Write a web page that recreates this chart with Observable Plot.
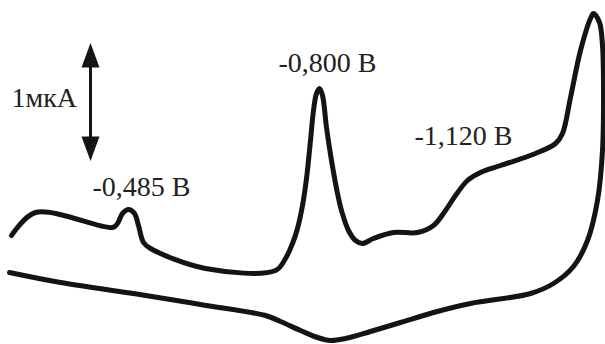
<!DOCTYPE html>
<html>
<head>
<meta charset="utf-8">
<script src="https://cdn.jsdelivr.net/npm/d3@7"></script>
<script src="https://cdn.jsdelivr.net/npm/@observablehq/plot@0.6"></script>
<style>
  body { margin: 0; background: #fff; }
  #chart svg { display: block; }
</style>
</head>
<body>
<div id="chart"></div>
<script>
// Potential (arbitrary units, left→right) and current (arbitrary units, top = high)
const curveX = [11,35,112,117,122,128,134,138,143,150,205,275,285,292,297,302,306,310,313,316,319,322,326,331,337,341,348,355,362,373,393,417,433,445,455,467,480,500,535,555,562,570,580,590,593,599,602,603,602,597,587,573,553,530,470,433,400,370,345,330,317,300,280,265,200,133,60,9];
const curveY = [235,212,227,223,213,209,213,225,242,248,268,270,258,243,228,205,178,140,110,93,88,95,127,160,193,210,230,240,243,238,232,232,225,210,195,180,172,165,153,143,133,97,50,18,13,22,45,85,150,200,240,266,283,293,303,312,322,331,338,340,337,330,321,315,304,293,282,272];

const peakLabels = ["-0,485 В", "-0,800 В", "-1,120 В"];
const peakLabelX = [92, 278, 414];
const peakLabelY = [187, 63, 136];

const scaleLabel = ["1мкА"];
const scaleLabelX = [11];
const scaleLabelY = [98];

// scale bar (1 µA) ends
const barX = [90];
const barTop = [55];
const barBottom = [148];

const curve = curveX.map((x, i) => ({x, y: curveY[i]}));
const labels = peakLabels.map((t, i) => ({t, x: peakLabelX[i], y: peakLabelY[i]}));
const scaleText = scaleLabel.map((t, i) => ({t, x: scaleLabelX[i], y: scaleLabelY[i]}));
const bar = barX.map((x, i) => ({x, y1: barTop[i], y2: barBottom[i]}));

const head = {
  draw(context) {
    context.moveTo(0, -12.5);
    context.lineTo(9, 12);
    context.lineTo(-9, 12);
    context.closePath();
  }
};

const chart = Plot.plot({
  width: 605,
  height: 344,
  margin: 0,
  x: {domain: [0, 605], axis: null},
  y: {domain: [344, 0], axis: null},
  style: {background: "#fff", fontFamily: "'Liberation Serif', 'Times New Roman', serif"},
  marks: [
    Plot.line(curve, {x: "x", y: "y", curve: "catmull-rom", stroke: "#141414", strokeWidth: 5, strokeLinejoin: "round", strokeLinecap: "round"}),
    Plot.link(bar, {x1: "x", x2: "x", y1: "y1", y2: "y2", stroke: "#141414", strokeWidth: 3}),
    Plot.dot(bar, {x: "x", y: "y1", symbol: head, fill: "#141414", stroke: null, r: 10}),
    Plot.dot(bar, {x: "x", y: "y2", symbol: head, fill: "#141414", stroke: null, r: 10, rotate: 180}),
    Plot.text(labels, {x: "x", y: "y", text: "t", textAnchor: "start", fontSize: 28, fontFamily: "'Liberation Serif', serif", fill: "#222"}),
    Plot.text(scaleText, {x: "x", y: "y", text: "t", textAnchor: "start", fontSize: 28, fontFamily: "'Liberation Serif', serif", fill: "#222"})
  ]
});
document.getElementById("chart").appendChild(chart);
</script>
</body>
</html>
